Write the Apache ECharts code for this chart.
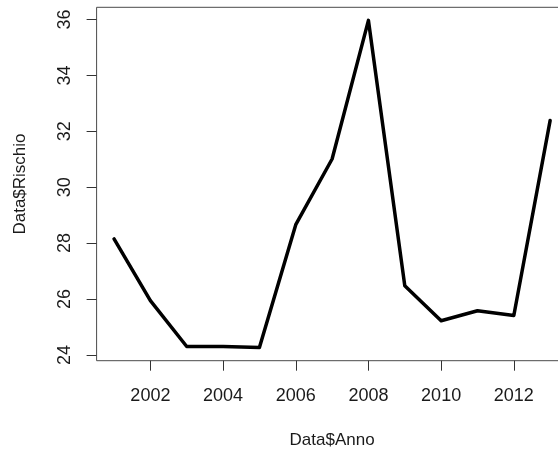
<!DOCTYPE html>
<html>
<head>
<meta charset="utf-8">
<script src="https://cdn.jsdelivr.net/npm/echarts@6/dist/echarts.min.js"></script>
<style>
  html, body { margin: 0; padding: 0; background: #fff; }
  #chart { width: 558px; height: 453px; }
</style>
</head>
<body>
<div id="chart"></div>
<script>
// Yearly risk index
const anni = [2001, 2002, 2003, 2004, 2005, 2006, 2007, 2008, 2009, 2010, 2011, 2012, 2013];
const rischio = [28.15, 25.94, 24.30, 24.30, 24.26, 28.66, 31.01, 35.97, 26.47, 25.22, 25.58, 25.41, 32.39];
const xTicks = [2002, 2004, 2006, 2008, 2010, 2012];
const yTicks = [24, 26, 28, 30, 32, 34, 36];

const font = '"Liberation Sans", Arial, sans-serif';
const textColor = '#1a1a1a';

// base-graphics style 4% padding around the data range
const xPad = (Math.max(...anni) - Math.min(...anni)) * 0.04;
const yPad = (Math.max(...rischio) - Math.min(...rischio)) * 0.04;

const chart = echarts.init(document.getElementById('chart'), null, { renderer: 'canvas' });
chart.setOption({
  animation: false,
  backgroundColor: '#fff',
  grid: {
    left: 96.6, top: 7.3, width: 471, height: 353.4,
    outerBoundsMode: 'none',
    show: true, borderColor: '#4a4a4a', borderWidth: 1, backgroundColor: 'transparent'
  },
  xAxis: {
    type: 'value',
    min: Math.min(...anni) - xPad,
    max: Math.max(...anni) + xPad,
    name: 'Data$Anno',
    nameLocation: 'middle',
    nameGap: 71,
    nameTextStyle: { fontFamily: font, fontSize: 17, color: textColor },
    axisLine: { show: false },
    splitLine: { show: false },
    axisTick: { show: true, customValues: xTicks, length: 10, lineStyle: { color: '#333', width: 1 } },
    axisLabel: { customValues: xTicks, margin: 26, fontFamily: font, fontSize: 18, color: textColor,
      formatter: v => String(v) }
  },
  yAxis: {
    type: 'value',
    min: Math.min(...rischio) - yPad,
    max: Math.max(...rischio) + yPad,
    name: 'Data$Rischio',
    nameLocation: 'middle',
    nameRotate: 90,
    nameGap: 68,
    nameTextStyle: { fontFamily: font, fontSize: 17, color: textColor },
    axisLine: { show: false },
    splitLine: { show: false },
    axisTick: { show: true, customValues: yTicks, length: 10, lineStyle: { color: '#333', width: 1 } },
    axisLabel: { customValues: yTicks, rotate: 90, margin: 23, fontFamily: font, fontSize: 18, color: textColor,
      formatter: v => String(v) }
  },
  series: [{
    type: 'line',
    data: anni.map((a, i) => [a, rischio[i]]),
    symbol: 'none',
    lineStyle: { color: '#000', width: 3.5, cap: 'round', join: 'round' }
  }]
});
</script>
</body>
</html>
